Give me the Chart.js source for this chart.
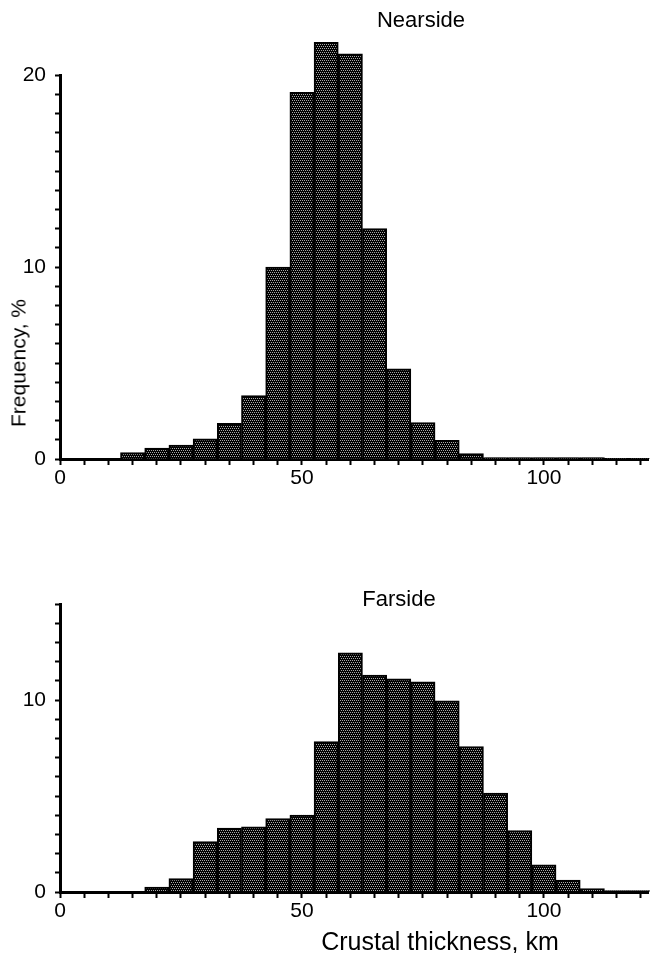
<!DOCTYPE html>
<html><head><meta charset="utf-8">
<script src="https://cdn.jsdelivr.net/npm/chart.js@4.4.0/dist/chart.umd.min.js"></script>
<style>
html,body{margin:0;padding:0;background:#fff;}
body{width:650px;height:953px;position:relative;overflow:hidden;font-family:"Liberation Sans",Arial,sans-serif;color:#000;}
.c{position:absolute;left:0;}
.t{position:absolute;white-space:nowrap;transform:translate(-50%,-50%);line-height:1;}
</style></head><body>
<div class="c" style="top:0;width:650px;height:500px"><canvas id="near" width="650" height="500"></canvas></div>
<div class="c" style="top:560px;width:650px;height:393px"><canvas id="far" width="650" height="393"></canvas></div>
<div class="t" style="left:421px;top:20px;font-size:22px">Nearside</div>
<div class="t" style="left:399px;top:599px;font-size:22px">Farside</div>
<div class="t" style="left:18px;top:363px;font-size:21px;transform:translate(-50%,-50%) rotate(-90deg)">Frequency, %</div>
<div class="t" style="left:440px;top:941px;font-size:25px">Crustal thickness, km</div>
<script>
// Bin centres (km), 5-km bins
const nearBins = [15,20,25,30,35,40,45,50,55,60,65,70,75,80,85,90,95,100,105,110,115,120];
const nearFreq = [0.33,0.57,0.72,1.05,1.86,3.3,10.0,19.1,21.7,21.1,12.0,4.7,1.9,0.97,0.28,0.08,0.08,0.08,0.08,0.08,0.03,0.03];
const farBins = [20,25,30,35,40,45,50,55,60,65,70,75,80,85,90,95,100,105,110,115,120];
const farFreq = [0.26,0.7,2.63,3.33,3.4,3.83,4.0,7.83,12.46,11.3,11.1,10.95,9.96,7.57,5.15,3.2,1.42,0.62,0.18,0.08,0.08];
const xTickLabels = [0,50,100];
const nearYLabels = [0,10,20];
const farYLabels = [0,10];

function makePattern(ctx){
  const p=document.createElement('canvas'); p.width=4; p.height=4;
  const g=p.getContext('2d');
  g.fillStyle='#000'; g.fillRect(0,0,4,4);
  g.fillStyle='#a8a8a8';
  g.fillRect(0,0,1,1); g.fillRect(2,0,1,1); g.fillRect(1,2,1,1); g.fillRect(3,2,1,1);
  return ctx.createPattern(p,'repeat');
}

function build(id, bins, freq, yMax, yLabels, padTop, xHeight){
  const canvas=document.getElementById(id);
  const ctx=canvas.getContext('2d');
  const pat=makePattern(ctx);
  return new Chart(ctx,{
    type:'bar',
    data:{datasets:[{
      data: bins.map((b,i)=>({x:b,y:freq[i]})),
      backgroundColor: pat,
      borderColor:'#000',
      borderWidth:2,
      borderSkipped:'bottom',
      barPercentage:1.0,
      categoryPercentage:1.0,
      clip:false
    }]},
    options:{
      responsive:false,
      animation:false,
      devicePixelRatio:1,
      layout:{padding:{top:padTop,right:2,left:0,bottom:0}},
      plugins:{legend:{display:false},tooltip:{enabled:false},title:{display:false}},
      scales:{
        x:{
          type:'linear', min:0, max:121.5, offset:false,
          grid:{display:true, offset:false, drawOnChartArea:false, drawTicks:true, tickLength:6, tickColor:'#000', tickWidth:2},
          border:{display:true, color:'#000', width:3},
          ticks:{stepSize:5, autoSkip:false, includeBounds:false, maxRotation:0, color:'#000', padding:1,
            font:{family:'"Liberation Sans", Arial, sans-serif', size:21},
            callback:(v)=> xTickLabels.includes(v) ? String(v) : ''},
          afterFit:(s)=>{s.height=xHeight;}
        },
        y:{
          type:'linear', min:0, max:yMax,
          grid:{display:true, drawOnChartArea:false, drawTicks:true, tickLength:5, tickColor:'#000', tickWidth:2},
          border:{display:true, color:'#000', width:3},
          ticks:{stepSize:1, autoSkip:false, includeBounds:false, color:'#000', padding:9,
            font:{family:'"Liberation Sans", Arial, sans-serif', size:21},
            callback:(v)=> yLabels.includes(v) ? String(v) : ''},
          afterFit:(s)=>{s.width=60;}
        }
      }
    }
  });
}
build('near', nearBins, nearFreq, 20, nearYLabels, 75, 41);
build('far', farBins, farFreq, 15, farYLabels, 44, 61);
</script>
</body></html>
